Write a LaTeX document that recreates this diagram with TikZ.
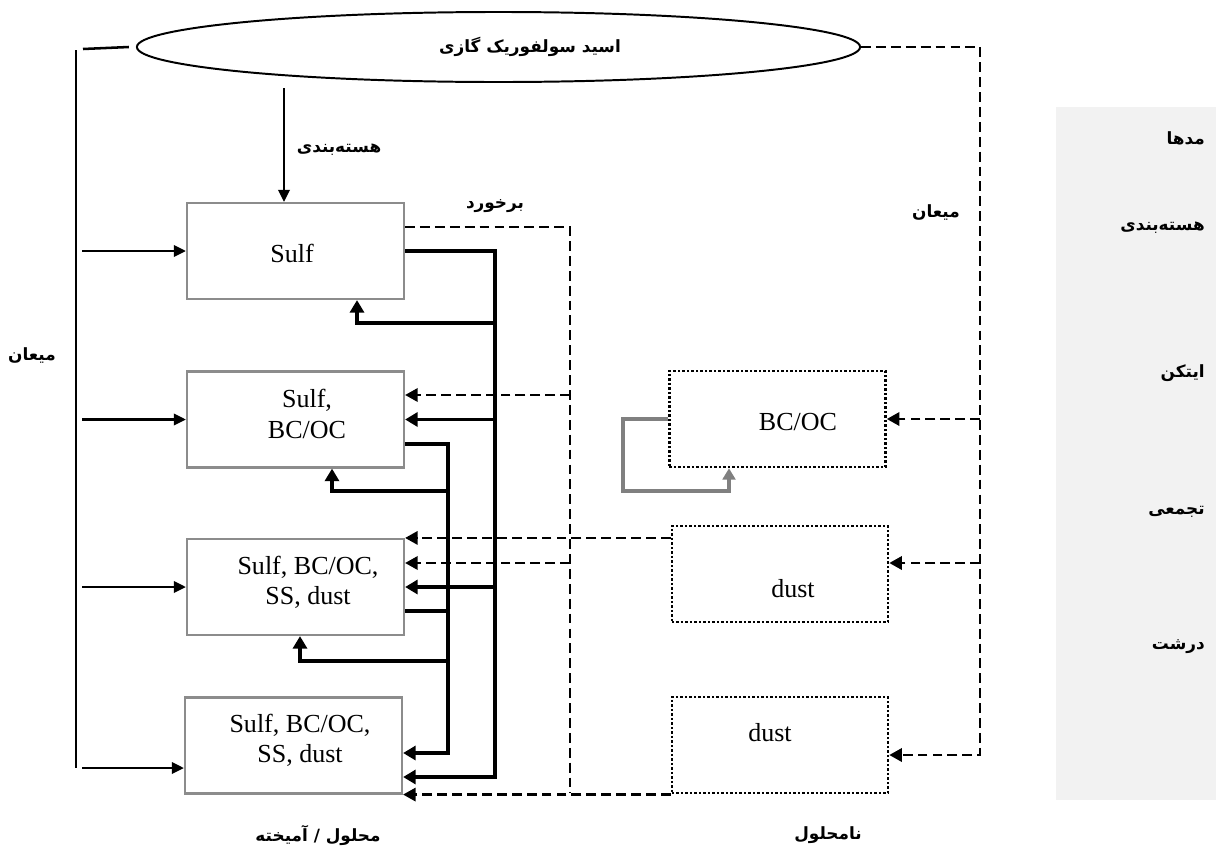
\documentclass[tikz,border=0pt]{standalone}
\usepackage{fontspec}
\setmainfont{Liberation Serif}
\newfontfamily\arabicfont[Script=Arabic]{DejaVu Sans}
\TeXXeTstate=1
\usetikzlibrary{arrows.meta,shapes.geometric}
\newcommand\fatxt[1]{{\arabicfont\bfseries\beginR #1\endR}}

\begin{document}
\begin{tikzpicture}[x=0.025cm,y=-0.025cm,
    solbox/.style={draw=black!45,line width=1.5pt,minimum width=5.425cm,minimum height=2.4cm,inner sep=0pt},
    insbox/.style={draw,line width=1.8pt,dash pattern=on 1.6pt off 1.6pt,minimum width=5.4cm,minimum height=2.4cm,inner sep=0pt},
    txt/.style={font=\fontsize{18.5}{21.5}\selectfont,align=center,inner sep=0pt},
    fa/.style={font=\fontsize{12}{14}\selectfont,inner sep=0pt},
    feed/.style={line width=1.8pt,-{Triangle[length=8.5pt,width=8pt]}},
    mix/.style={line width=2.8pt},
    mixto/.style={mix,-{Triangle[length=9pt,width=10pt]}},
    cond/.style={line width=1.8pt,dash pattern=on 7pt off 3.6pt},
    condto/.style={cond,-{Triangle[length=9pt,width=9.5pt]}},
    selfloop/.style={gray,line width=2.3pt,-{Triangle[length=8pt,width=9pt]}}
]
\useasboundingbox (0,0) rectangle (1216,849);
\fill[black!5] (1056,107) rectangle (1216,800);

% gas phase
\node[draw,ellipse,line width=1.4pt,minimum width=18.075cm,minimum height=1.75cm,inner sep=0pt] (acid) at (498.5,47) {};
\node[fa] (acidlbl) at (530,47) {\fatxt{اسید سولفوریک گازی}};

% soluble / mixed modes
\node[solbox] (sulf) at (295.5,251) {};
\node[solbox] (sulfbc) at (295.5,419.5) {};
\node[solbox] (mixa) at (295.5,587) {};
\node[solbox] (mixb) at (293.5,745.5) {};
\node[txt] (sulft) at (292,253) {Sulf};
\node[txt] (sulfbct) at (307,414) {Sulf,\\BC/OC};
\node[txt] (mixat) at (308,582) {Sulf, BC/OC,\\SS, dust};
\node[txt] (mixbt) at (300,740) {Sulf, BC/OC,\\SS, dust};

% insoluble modes
\node[insbox] (bcoc) at (777.5,419) {};
\node[insbox] (dusta) at (780,574) {};
\node[insbox] (dustb) at (780,745) {};
\node[txt] (bcoct) at (798,422) {BC/OC};
\node[txt] (dustat) at (793,589) {dust};
\node[txt] (dustbt) at (770,733) {dust};

% labels
\node[fa] (nuclbl) at (339,150) {\fatxt{هسته‌بندی}};
\node[fa] (colllbl) at (495,206) {\fatxt{برخورد}};
\node[fa] (condrlbl) at (936,212) {\fatxt{میعان}};
\node[fa] (condllbl) at (32,355) {\fatxt{میعان}};
\node[fa] (sollbl) at (318,835) {\fatxt{محلول / آمیخته}};
\node[fa] (insollbl) at (828,835) {\fatxt{نامحلول}};
\node[fa,anchor=east] (modeslbl) at (1205,138) {\fatxt{مدها}};
\node[fa,anchor=east] (nucmode) at (1205,228) {\fatxt{هسته‌بندی}};
\node[fa,anchor=east] (aitmode) at (1205,373) {\fatxt{ایتکن}};
\node[fa,anchor=east] (accmode) at (1205,512) {\fatxt{تجمعی}};
\node[fa,anchor=east] (coamode) at (1205,647) {\fatxt{درشت}};

% bus points
\coordinate (lbus) at (82,0);
\coordinate (ltop) at (76,50);
\coordinate (lbot) at (76,768);
\coordinate (ltick) at (83,49);
\coordinate (nuc) at (284,88);
\coordinate (busA) at (495,777);
\coordinate (busB) at (448,753);
\coordinate (upA) at (357,323);
\coordinate (rowB) at (448,444);
\coordinate (upB) at (332,491);
\coordinate (rowC) at (448,611);
\coordinate (upC) at (300,661);
\coordinate (mtop) at (570,227);
\coordinate (mbus) at (570,793);
\coordinate (mrowB) at (570,395);
\coordinate (mrowC) at (570,563);
\coordinate (rbus) at (980,755);
\coordinate (rrowA) at (980,563);
\coordinate (loopL) at (623,491);
\coordinate (loopR) at (729,491);

% condensation (left)
\draw[line width=1.8pt] (ltop) -- (lbot);
\draw[line width=1.8pt] (ltick) -- ([xshift=-5pt]acid.west);
\draw[feed] (sulf.west -| lbus) -- (sulf.west);
\draw[feed] (sulfbc.west -| lbus) -- (sulfbc.west);
\draw[feed] (mixa.west -| lbus) -- (mixa.west);
\draw[feed] (lbot -| lbus) -- (lbot -| mixb.west);
\draw[feed] (nuc) -- (nuc |- sulf.north);

% coagulation
\draw[mixto] (sulf.east) -| (busA) -- (busA -| mixb.east);
\draw[mixto] (upA -| busA) -- (upA) -- (upA |- sulf.south);
\draw[mixto] (sulfbc.east -| busA) -- (sulfbc.east);
\draw[mixto] (mixa.east -| busA) -- (mixa.east);
\draw[mixto] (sulfbc.east |- rowB) -- (rowB) -- (busB) -- (busB -| mixb.east);
\draw[mixto] (upB -| busB) -- (upB) -- (upB |- sulfbc.south);
\draw[mix] (mixa.east |- rowC) -- (rowC);
\draw[mixto] (upC -| busB) -- (upC) -- (upC |- mixa.south);

% dashed transfers
\draw[cond] (sulf.east |- mtop) -- (mtop) -- (mbus);
\draw[condto] (mrowB) -- (mrowB -| sulfbc.east);
\draw[condto] (mrowC) -- (mrowC -| mixa.east);
\draw[condto] (dusta.west |- mixa.north) -- (mixa.north east);
\draw[condto] (dustb.west |- mixb.south) -- (mixb.south east);
\draw[condto] (acid.east) -| (rbus) -- (rbus -| dustb.east);
\draw[condto] (bcoc.east -| rbus) -- (bcoc.east);
\draw[condto] (rrowA) -- (rrowA -| dusta.east);

% self coagulation
\draw[selfloop] (bcoc.west) -| (loopL) -- (loopR) -- (loopR |- bcoc.south);
\end{tikzpicture}
\end{document}
